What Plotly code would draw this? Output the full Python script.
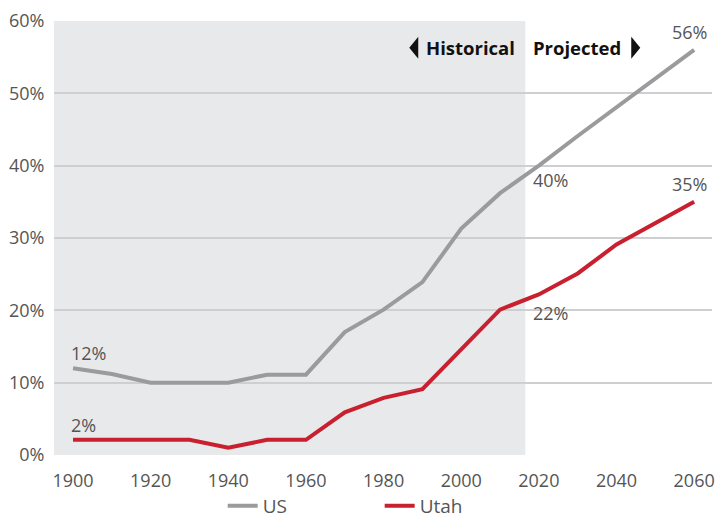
import plotly.graph_objects as go

years = [1900, 1910, 1920, 1930, 1940, 1950, 1960, 1970, 1980, 1990, 2000, 2010, 2020, 2030, 2040, 2050, 2060]
us = [12.0, 11.2, 10.0, 10.0, 10.0, 11.1, 11.1, 17.0, 20.1, 23.9, 31.3, 36.2, 40.0, 44.1, 48.1, 52.1, 56.0]
utah = [2.1, 2.1, 2.1, 2.1, 1.0, 2.1, 2.1, 5.9, 7.9, 9.1, 14.6, 20.1, 22.2, 25.1, 29.1, 32.0, 35.0]
x_ticks = [1900, 1920, 1940, 1960, 1980, 2000, 2020, 2040, 2060]
y_ticks = [0, 10, 20, 30, 40, 50, 60]
y_labels = ["0%", "10%", "20%", "30%", "40%", "50%", "60%"]
historical_end = 2016.5

FONT = "Open Sans"
GRAY_TXT = "#555555"

fig = go.Figure()
fig.add_trace(go.Scatter(x=years, y=us, mode="lines", name="US",
                         line=dict(color="#9a9b9d", width=4)))
fig.add_trace(go.Scatter(x=years, y=utah, mode="lines", name="Utah",
                         line=dict(color="#c8202f", width=4)))

fig.add_shape(type="rect", xref="x", yref="y", x0=1895.1, x1=historical_end, y0=0, y1=60,
              fillcolor="#e8e9eb", line=dict(width=0), layer="below")

# triangles beside the Historical / Projected labels
fig.add_shape(type="path", xref="x", yref="y", xsizemode="pixel", ysizemode="pixel",
              xanchor=historical_end, yanchor=56.3,
              path="M -107 -11 L -107 11 L -116 0 Z", fillcolor="#111111", line=dict(width=0))
fig.add_shape(type="path", xref="x", yref="y", xsizemode="pixel", ysizemode="pixel",
              xanchor=historical_end, yanchor=56.3,
              path="M 106 -11 L 106 11 L 115 0 Z", fillcolor="#111111", line=dict(width=0))

ann = [
    dict(x=1900, y=us[0], text="12%", xanchor="left", yanchor="bottom", yshift=1, xshift=-4),
    dict(x=1900, y=utah[0], text="2%", xanchor="left", yanchor="bottom", yshift=1, xshift=-4),
    dict(x=2020, y=us[12], text="40%", xanchor="left", yanchor="top", yshift=0, xshift=-8),
    dict(x=2020, y=utah[12], text="22%", xanchor="left", yanchor="top", yshift=-5, xshift=-8),
    dict(x=2060, y=us[-1], text="56%", xanchor="right", yanchor="bottom", yshift=4, xshift=15),
    dict(x=2060, y=utah[-1], text="35%", xanchor="right", yanchor="bottom", yshift=4, xshift=15),
]
for a in ann:
    fig.add_annotation(xref="x", yref="y", showarrow=False,
                       font=dict(family=FONT, size=18, color=GRAY_TXT), **a)

fig.add_annotation(xref="x", yref="y", x=historical_end, y=56.3, showarrow=False,
                   text="<b>Historical</b>", xanchor="right", yanchor="middle", xshift=-8,
                   font=dict(family=FONT, size=18.5, color="#111111"))
fig.add_annotation(xref="x", yref="y", x=historical_end, y=56.3, showarrow=False,
                   text="<b>Projected</b>", xanchor="left", yanchor="middle", xshift=6,
                   font=dict(family=FONT, size=18.5, color="#111111"))

fig.update_layout(
    width=716, height=525,
    margin=dict(l=54, r=4, t=21, b=70, autoexpand=False),
    paper_bgcolor="white", plot_bgcolor="white",
    font=dict(family=FONT, size=18, color=GRAY_TXT),
    showlegend=True,
    legend=dict(orientation="h", xref="container", x=0.311, xanchor="left",
                yref="container", y=0.0, yanchor="bottom",
                font=dict(family=FONT, size=19, color=GRAY_TXT),
                entrywidth=112, traceorder="normal"),
    xaxis=dict(range=[1895.1, 2064.6], tickvals=x_ticks, showgrid=False, zeroline=False,
               showline=False, ticks="outside", ticklen=9, tickcolor="rgba(0,0,0,0)",
               automargin=False, tickfont=dict(family=FONT, size=18, color=GRAY_TXT)),
    yaxis=dict(range=[0, 60], tickvals=y_ticks, ticktext=y_labels, showgrid=True,
               gridcolor="#cfcfd1", gridwidth=1.5, zeroline=False, showline=False,
               ticks="outside", ticklen=5, tickcolor="rgba(0,0,0,0)",
               automargin=False, tickfont=dict(family=FONT, size=18, color=GRAY_TXT)),
)

fig.write_html("out.html", config={"displayModeBar": False},
               post_script="document.body.style.margin='0';document.body.style.overflow='hidden';")
